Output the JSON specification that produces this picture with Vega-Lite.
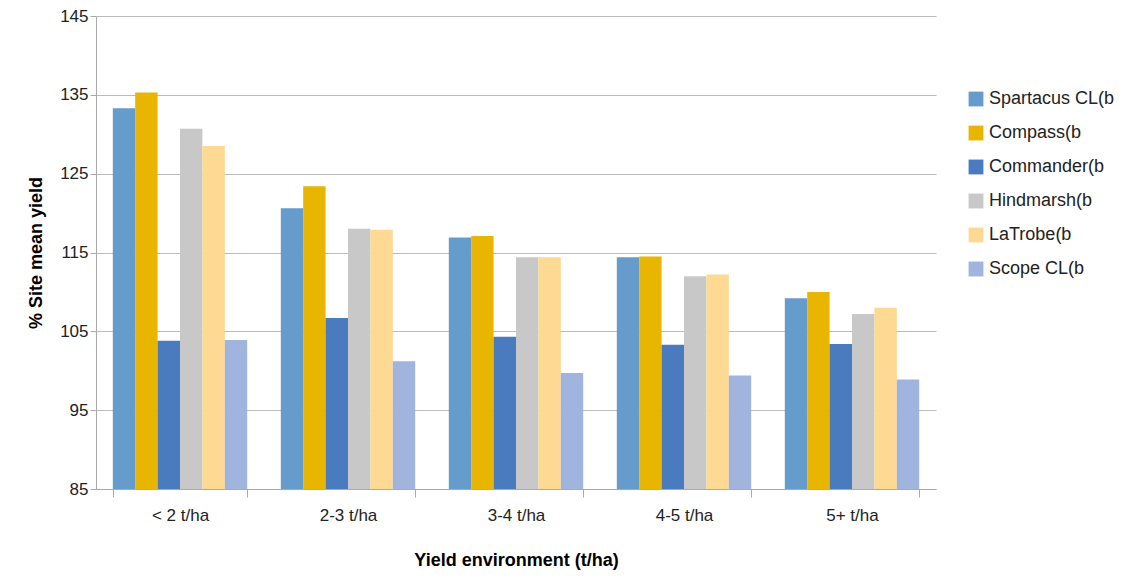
{
  "$schema": "https://vega.github.io/schema/vega-lite/v6.json",
  "width": 840,
  "height": 473,
  "padding": {"left": 27, "top": 7, "right": 5, "bottom": 5},
  "config": {
    "font": "Liberation Sans",
    "view": {"stroke": null},
    "axis": {"labelFontSize": 17, "labelColor": "#222", "titleFontSize": 18, "titleColor": "#000", "titleFontWeight": "bold", "domainColor": "#aaa", "tickColor": "#aaa", "gridColor": "#bbb"}
  },
  "data": {
    "values": [
      {"env": "< 2 t/ha", "variety": "Spartacus CL(b", "yield": 133.3},
      {"env": "< 2 t/ha", "variety": "Compass(b", "yield": 135.3},
      {"env": "< 2 t/ha", "variety": "Commander(b", "yield": 103.8},
      {"env": "< 2 t/ha", "variety": "Hindmarsh(b", "yield": 130.7},
      {"env": "< 2 t/ha", "variety": "LaTrobe(b", "yield": 128.5},
      {"env": "< 2 t/ha", "variety": "Scope CL(b", "yield": 103.9},
      {"env": "2-3 t/ha", "variety": "Spartacus CL(b", "yield": 120.6},
      {"env": "2-3 t/ha", "variety": "Compass(b", "yield": 123.4},
      {"env": "2-3 t/ha", "variety": "Commander(b", "yield": 106.7},
      {"env": "2-3 t/ha", "variety": "Hindmarsh(b", "yield": 118.0},
      {"env": "2-3 t/ha", "variety": "LaTrobe(b", "yield": 117.9},
      {"env": "2-3 t/ha", "variety": "Scope CL(b", "yield": 101.2},
      {"env": "3-4 t/ha", "variety": "Spartacus CL(b", "yield": 116.9},
      {"env": "3-4 t/ha", "variety": "Compass(b", "yield": 117.1},
      {"env": "3-4 t/ha", "variety": "Commander(b", "yield": 104.3},
      {"env": "3-4 t/ha", "variety": "Hindmarsh(b", "yield": 114.4},
      {"env": "3-4 t/ha", "variety": "LaTrobe(b", "yield": 114.4},
      {"env": "3-4 t/ha", "variety": "Scope CL(b", "yield": 99.7},
      {"env": "4-5 t/ha", "variety": "Spartacus CL(b", "yield": 114.4},
      {"env": "4-5 t/ha", "variety": "Compass(b", "yield": 114.5},
      {"env": "4-5 t/ha", "variety": "Commander(b", "yield": 103.3},
      {"env": "4-5 t/ha", "variety": "Hindmarsh(b", "yield": 112.0},
      {"env": "4-5 t/ha", "variety": "LaTrobe(b", "yield": 112.2},
      {"env": "4-5 t/ha", "variety": "Scope CL(b", "yield": 99.4},
      {"env": "5+ t/ha", "variety": "Spartacus CL(b", "yield": 109.2},
      {"env": "5+ t/ha", "variety": "Compass(b", "yield": 110.0},
      {"env": "5+ t/ha", "variety": "Commander(b", "yield": 103.4},
      {"env": "5+ t/ha", "variety": "Hindmarsh(b", "yield": 107.2},
      {"env": "5+ t/ha", "variety": "LaTrobe(b", "yield": 108.0},
      {"env": "5+ t/ha", "variety": "Scope CL(b", "yield": 98.9}
    ]
  },
  "mark": {"type": "bar", "clip": true},
  "encoding": {
    "x": {
      "field": "env", "type": "nominal", "sort": null,
      "scale": {"paddingInner": 0.2, "paddingOuter": 0.1},
      "axis": {"labelAngle": 0, "title": "Yield environment (t/ha)", "titlePadding": 28, "labelPadding": 10, "tickSize": 8, "tickBand": "extent"}
    },
    "xOffset": {"field": "variety", "type": "nominal", "sort": null},
    "y": {
      "field": "yield", "type": "quantitative",
      "scale": {"domain": [85, 145], "nice": false},
      "axis": {"values": [85, 95, 105, 115, 125, 135, 145], "title": "% Site mean yield", "titlePadding": 14, "domain": true, "tickSize": 6}
    },
    "color": {
      "field": "variety", "type": "nominal", "sort": null,
      "scale": {
        "domain": ["Spartacus CL(b", "Compass(b", "Commander(b", "Hindmarsh(b", "LaTrobe(b", "Scope CL(b"],
        "range": ["#659ccb", "#e8b500", "#4a7bbf", "#c8c8c8", "#fdd993", "#a0b4dd"]
      },
      "legend": {"title": null, "labelFontSize": 18, "symbolType": "square", "symbolSize": 220, "symbolStrokeWidth": 0, "rowPadding": 16, "orient": "none", "legendX": 871, "legendY": 74, "padding": 0, "labelColor": "#222"}
    }
  }
}
